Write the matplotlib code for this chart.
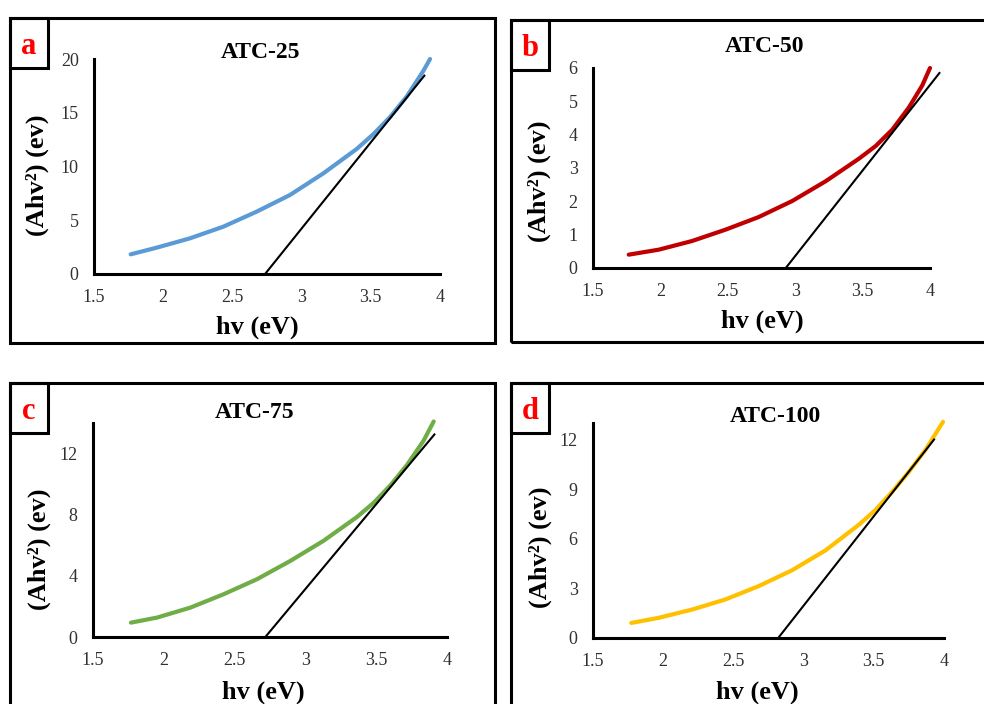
import matplotlib
matplotlib.use("Agg")
import matplotlib.pyplot as plt
from matplotlib.patches import Rectangle

plt.rcParams['font.family'] = ['Liberation Serif', 'DejaVu Serif']

W, H = 984, 704

# Tauc plot data: photon energy hv (eV) and (Ahv)^2, plus the linear fit used for the band gap
hv_25 = [1.765, 1.953, 2.194, 2.434, 2.675, 2.916, 3.157, 3.398, 3.518, 3.639, 3.759, 3.880, 3.928]
y_25 = [1.83, 2.45, 3.32, 4.40, 5.80, 7.35, 9.36, 11.63, 13.0, 14.6, 16.5, 18.9, 20.0]
fit_25_x = [2.736, 3.887]
fit_25_y = [0.0, 18.45]

hv_50 = [1.765, 1.988, 2.235, 2.483, 2.730, 2.978, 3.225, 3.473, 3.597, 3.720, 3.844, 3.943, 4.000]
y_50 = [0.40, 0.55, 0.81, 1.15, 1.53, 2.01, 2.60, 3.28, 3.66, 4.15, 4.82, 5.48, 6.00]
fit_50_x = [2.93, 4.07]
fit_50_y = [0.0, 5.85]

hv_75 = [1.768, 1.952, 2.187, 2.423, 2.658, 2.894, 3.129, 3.364, 3.482, 3.600, 3.717, 3.835, 3.906]
y_75 = [0.94, 1.27, 1.92, 2.80, 3.78, 4.98, 6.30, 7.85, 8.78, 9.92, 11.25, 12.85, 14.10]
fit_75_x = [2.717, 3.911]
fit_75_y = [0.0, 13.25]

hv_100 = [1.773, 1.968, 2.206, 2.443, 2.681, 2.919, 3.156, 3.394, 3.513, 3.632, 3.750, 3.870, 3.993]
y_100 = [0.91, 1.22, 1.72, 2.33, 3.14, 4.10, 5.30, 6.85, 7.75, 8.85, 10.05, 11.40, 13.07]
fit_100_x = [2.819, 3.929]
fit_100_y = [0.0, 12.0]

x_ticks = [1.5, 2, 2.5, 3, 3.5, 4]
x_ticklabels = ['1.5', '2', '2.5', '3', '3.5', '4']

panels = [
    dict(tag='a', title='ATC-25', x=hv_25, y=y_25, fx=fit_25_x, fy=fit_25_y,
         color='#5B9BD5', ylim=20, yticks=[0, 5, 10, 15, 20],
         frame=(10, 18, 495, 343), ax=(94, 59, 440, 274), title_xy=(261, 52),
         xl=(257, 327), yl=(37, 175)),
    dict(tag='b', title='ATC-50', x=hv_50, y=y_50, fx=fit_50_x, fy=fit_50_y,
         color='#C00000', ylim=6, yticks=[0, 1, 2, 3, 4, 5, 6],
         frame=(511, 20, 990, 342), ax=(593, 68, 930, 268), title_xy=(765, 47),
         xl=(762, 321), yl=(539, 181)),
    dict(tag='c', title='ATC-75', x=hv_75, y=y_75, fx=fit_75_x, fy=fit_75_y,
         color='#70AD47', ylim=14, yticks=[0, 4, 8, 12],
         frame=(10, 383, 495, 710), ax=(93, 423, 447, 637), title_xy=(255, 412),
         xl=(263, 692), yl=(39, 549)),
    dict(tag='d', title='ATC-100', x=hv_100, y=y_100, fx=fit_100_x, fy=fit_100_y,
         color='#FFC000', ylim=13, yticks=[0, 3, 6, 9, 12],
         frame=(511, 383, 990, 710), ax=(593, 423, 944, 638), title_xy=(775, 416),
         xl=(757, 692), yl=(540, 547)),
]

fig = plt.figure(figsize=(W / 100, H / 100), dpi=100)
fig.patch.set_facecolor('white')


def fx(px):
    return px / W


def fy(py):
    return 1 - py / H


for p in panels:
    x0, y0, x1, y1 = p['frame']
    fig.patches.append(Rectangle((fx(x0), fy(y1)), fx(x1 - x0), (y1 - y0) / H,
                                 transform=fig.transFigure, fill=False,
                                 edgecolor='black', linewidth=2.2, zorder=0))
    fig.patches.append(Rectangle((fx(x0), fy(y0 + 50)), fx(38), 50 / H,
                                 transform=fig.transFigure, fill=False,
                                 edgecolor='black', linewidth=2.2, zorder=0))
    fig.text(fx(x0 + 19), fy(y0 + 36), p['tag'], color='#FF0000',
             fontsize=22, fontweight='bold', ha='center', va='baseline')

    ax0, ay0, ax1, ay1 = p['ax']
    ax = fig.add_axes([fx(ax0), fy(ay1), fx(ax1 - ax0), (ay1 - ay0) / H])
    ax.plot(p['x'], p['y'], color=p['color'], linewidth=3.0,
            solid_capstyle='round', solid_joinstyle='round', clip_on=False)
    ax.plot(p['fx'], p['fy'], color='black', linewidth=1.5, clip_on=False)
    ax.set_xlim(1.5, 4)
    ax.set_ylim(0, p['ylim'])
    ax.set_xticks(x_ticks)
    ax.set_xticklabels(x_ticklabels)
    ax.set_yticks(p['yticks'])
    for s in ('top', 'right'):
        ax.spines[s].set_visible(False)
    for s in ('left', 'bottom'):
        ax.spines[s].set_linewidth(2.2)
    ax.tick_params(length=0, labelsize=13, labelcolor='#303030')
    ax.tick_params(axis='x', pad=11)
    ax.tick_params(axis='y', pad=11)
    ax.set_facecolor('none')

    fig.text(fx(p['xl'][0]), fy(p['xl'][1]), 'hv (eV)', fontsize=19,
             fontweight='bold', ha='center', va='center')
    fig.text(fx(p['yl'][0]), fy(p['yl'][1]), '(Ahv²) (ev)', fontsize=19,
             fontweight='bold', ha='center', va='center', rotation=90)
    fig.text(fx(p['title_xy'][0]), fy(p['title_xy'][1]), p['title'],
             fontsize=17, fontweight='bold', ha='center', va='center')

fig.savefig('out.png', dpi=100)
